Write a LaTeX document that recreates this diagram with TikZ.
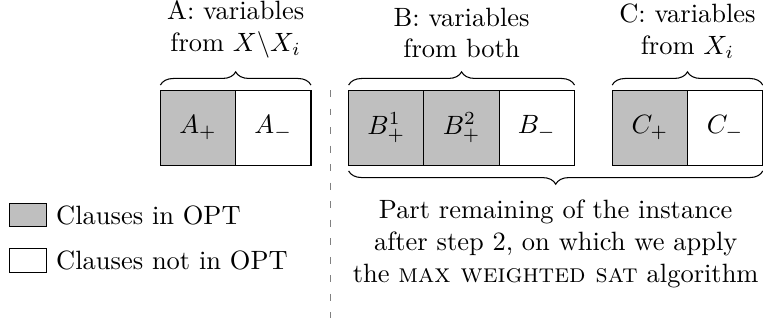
\documentclass[tikz,border=0pt]{standalone}
\usepackage{amsmath}
\usepackage{amssymb}
\usetikzlibrary{positioning,decorations.pathreplacing}

\begin{document}
\begin{tikzpicture}[scale=1,
  cell/.style={draw,minimum width=1cm,minimum height=1cm,outer sep=0pt,inner sep=0pt},
  inopt/.style={cell,fill=lightgray},
  brc/.style={decorate,decoration={brace,amplitude=5pt}},
  keybox/.style={draw,minimum width=0.5cm,minimum height=0.31cm,outer sep=0pt,inner sep=0pt}]
\useasboundingbox (0,0) rectangle (10.133,4.290);
% clause blocks
\node[inopt] (ap) at (2.63,2.59) {$A_+$};
\node[cell,right=0pt of ap] (am) {$A_-$};
\node[inopt] (bp1) at (5.13,2.59) {$B_+^1$};
\node[inopt,right=0pt of bp1] (bp2) {$B_+^2$};
\node[cell,right=0pt of bp2] (bm) {$B_-$};
\node[inopt] (cp) at (8.63,2.59) {$C_+$};
\node[cell,right=0pt of cp] (cm) {$C_-$};
% braces with their labels
\draw[brc] ([yshift=2pt]ap.north west) -- ([yshift=2pt]am.north east)
  node[midway,above=6.6pt,align=center] (labA) {A: variables\\ from $X\backslash X_i$};
\draw[brc] ([yshift=2pt]bp1.north west) -- ([yshift=2pt]bm.north east)
  node[midway,above=6.6pt,align=center] (labB) {B: variables\\ from both};
\draw[brc] ([yshift=2pt]cp.north west) -- ([yshift=2pt]cm.north east)
  node[midway,above=6.6pt,align=center] (labC) {C: variables\\ from $X_i$};
\draw[brc,decoration={mirror}] ([yshift=-2pt]bp1.south west) -- ([yshift=-2pt]cm.south east)
  node[midway,below=7.4pt,align=center] (labRest) {Part remaining of the instance\\ after step 2, on which we apply\\ the \textsc{max weighted sat} algorithm};
% separator
\coordinate (sepTop) at (4.39,3.094);
\coordinate (sepBot) at (4.39,0.066);
\draw[gray,dash pattern=on 2.6pt off 4.4pt] (sepTop) -- (sepBot);
% legend
\node[keybox,fill=lightgray] (keyin) at (0.372,1.434) {};
\node[right=0pt of keyin] (txtin) {Clauses in OPT};
\node[keybox] (keyout) at (0.372,0.830) {};
\node[right=0pt of keyout] (txtout) {Clauses not in OPT};
\end{tikzpicture}
\end{document}
